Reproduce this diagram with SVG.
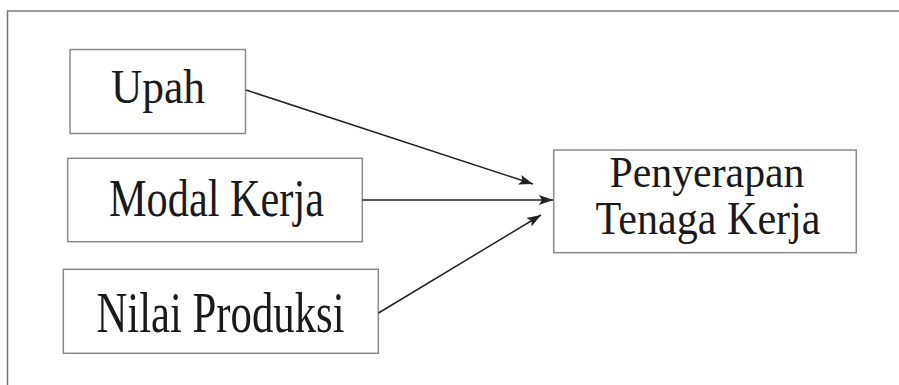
<svg xmlns="http://www.w3.org/2000/svg" width="899" height="385" viewBox="0 0 899 385">
<style>
.box{fill:#fff;stroke:#8a8a8a;stroke-width:1.5}
.lbl{font-family:"Liberation Serif","Times New Roman",serif;fill:#1a1a1a;text-anchor:middle}
.con{stroke:#222;stroke-width:1.5;fill:none;marker-end:url(#ah)}
</style>
<defs>
<marker id="ah" markerUnits="userSpaceOnUse" markerWidth="16" markerHeight="12" refX="14" refY="5" orient="auto" viewBox="0 0 16 10">
<path d="M0,0 L14,5 L0,10 L3,5 Z" fill="#222"/>
</marker>
</defs>
<rect width="899" height="385" fill="#fff"/>
<g id="frame">
<path d="M7.5,385 V11 H899" fill="none" stroke="#777" stroke-width="1.5"/>
</g>
<g id="upah">
<rect class="box" x="70" y="49.5" width="175.5" height="84"/>
<text class="lbl" x="158" y="103" font-size="48" textLength="94" lengthAdjust="spacingAndGlyphs">Upah</text>
</g>
<g id="modal">
<rect class="box" x="67.7" y="158.3" width="294.6" height="83.4"/>
<text class="lbl" x="216.5" y="216" font-size="53" textLength="215" lengthAdjust="spacingAndGlyphs">Modal Kerja</text>
</g>
<g id="nilai">
<rect class="box" x="63.3" y="269.3" width="315" height="84"/>
<text class="lbl" x="220.5" y="331.5" font-size="56" textLength="248" lengthAdjust="spacingAndGlyphs">Nilai Produksi</text>
</g>
<g id="penyerapan">
<rect class="box" x="553.7" y="150" width="302.6" height="102.7"/>
<text class="lbl" x="707" y="186.5" font-size="45" textLength="195" lengthAdjust="spacingAndGlyphs">Penyerapan</text>
<text class="lbl" x="708" y="234" font-size="46" textLength="225" lengthAdjust="spacingAndGlyphs">Tenaga Kerja</text>
</g>
<g id="connectors">
<line class="con" x1="246" y1="90" x2="533" y2="184"/>
<line class="con" x1="362.5" y1="200" x2="553" y2="200"/>
<line class="con" x1="378.5" y1="313" x2="541" y2="215"/>
</g>
</svg>
